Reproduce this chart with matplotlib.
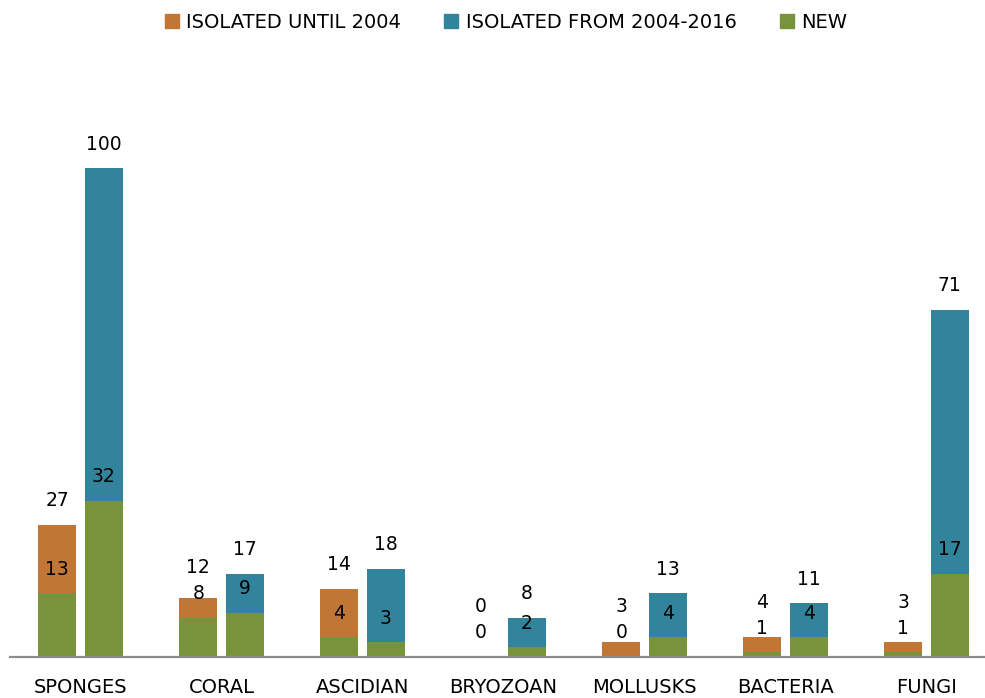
import numpy as np
import matplotlib.pyplot as plt
from matplotlib.patches import Patch

# compounds by source organism
categories = ["SPONGES", "CORAL", "ASCIDIAN", "BRYOZOAN", "MOLLUSKS", "BACTERIA", "FUNGI"]

until_2004_total = [27, 12, 14, 0, 3, 4, 3]
until_2004_new = [13, 8, 4, 0, 0, 1, 1]

from_2004_total = [100, 17, 18, 8, 13, 11, 71]
from_2004_new = [32, 9, 3, 2, 4, 4, 17]

series_names = ["ISOLATED UNTIL 2004", "ISOLATED FROM 2004-2016", "NEW"]

c_orange = "#C27636"
c_blue = "#31849B"
c_green = "#77933C"

plt.rcParams['font.family'] = 'DejaVu Sans'

fig = plt.figure(figsize=(9.85, 6.98), dpi=100)
ax = fig.add_axes([10/985, 41/698, 987/985, 617/698])

x = np.arange(len(categories))
w = 0.266
off = 0.165

u_tot = np.array(until_2004_total)
u_new = np.array(until_2004_new)
f_tot = np.array(from_2004_total)
f_new = np.array(from_2004_new)

# green base, old compounds stacked on top
ax.bar(x - off, u_new, w, color=c_green, edgecolor='none')
ax.bar(x - off, u_tot - u_new, w, bottom=u_new, color=c_orange, edgecolor='none')
ax.bar(x + off, f_new, w, color=c_green, edgecolor='none')
ax.bar(x + off, f_tot - f_new, w, bottom=f_new, color=c_blue, edgecolor='none')

ymax = 617 / 4.89
ax.set_xlim(-0.5, len(categories) - 0.5)
ax.set_ylim(0, ymax)

# convert pixel offsets to data units
upp = ymax / 617.0
lift = 24 * upp
gap = 26 * upp

def put_labels(xs, new, tot):
    for xi, n, t in zip(xs, new, tot):
        yn = n + lift
        yt = max(t + lift, yn + gap)
        ax.text(xi, yn, str(n), ha='center', va='center', fontsize=13.5, color='black')
        ax.text(xi, yt, str(t), ha='center', va='center', fontsize=13.5, color='black')

put_labels(x - off, u_new, u_tot)
put_labels(x + off, f_new, f_tot)

for s in ['top', 'right', 'left']:
    ax.spines[s].set_visible(False)
ax.spines['bottom'].set_color('#8c8c8c')
ax.spines['bottom'].set_linewidth(1.6)
ax.set_yticks([])
ax.set_xticks(x)
ax.set_xticklabels(categories, fontsize=14)
ax.tick_params(axis='x', length=0, pad=15)

handles = [Patch(color=c_orange), Patch(color=c_blue), Patch(color=c_green)]
fig.legend(handles, series_names, loc='center', bbox_to_anchor=(506/985, 1 - 22.5/698),
           ncol=3, frameon=False, fontsize=14, handlelength=0.72, handleheight=0.72,
           handletextpad=0.4, columnspacing=2.2)

fig.savefig("out.png", dpi=100)
